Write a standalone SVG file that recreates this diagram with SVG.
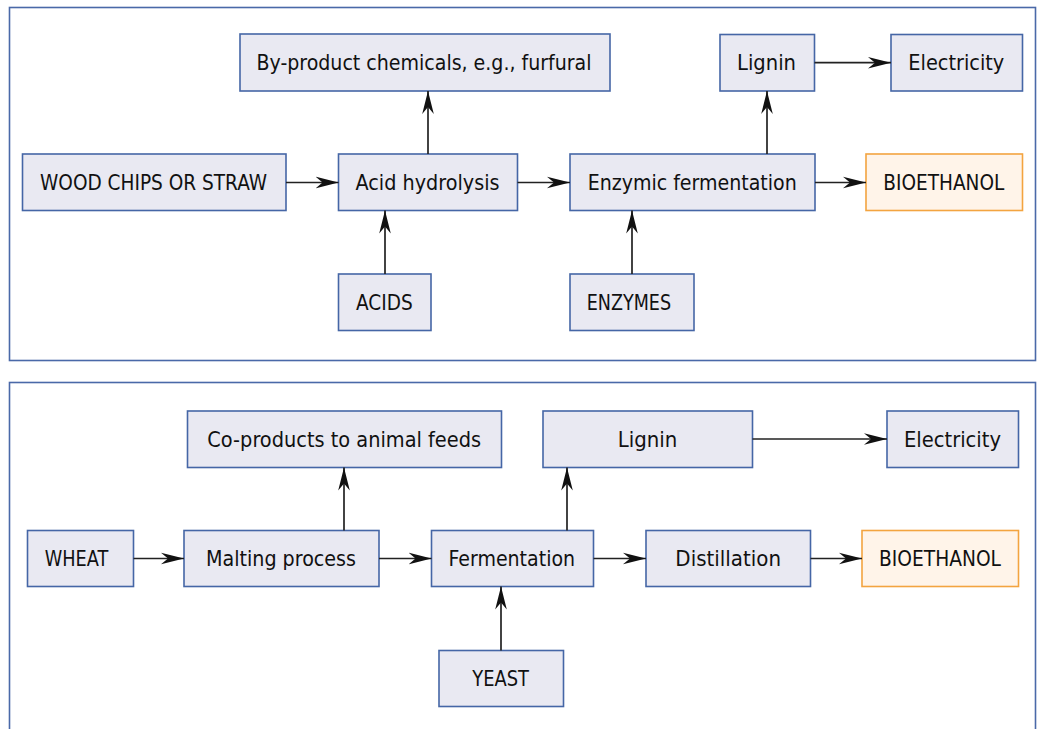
<svg xmlns="http://www.w3.org/2000/svg" width="1039" height="729" viewBox="0 0 1039 729">
<defs>
<marker id="ah" markerUnits="userSpaceOnUse" markerWidth="24" markerHeight="14" viewBox="-23 -7 24 14" refX="0" refY="0" orient="auto">
<path d="M0,0 L-23,-5.8 L-16,0 L-23,5.8 Z" fill="#111"/>
</marker>
<style>
.panel{fill:#ffffff;stroke:#4a69a8;stroke-width:1.6}
.box rect{fill:#e9e9f2;stroke:#4566a6;stroke-width:1.6}
.out rect{fill:#fff4e9;stroke:#f3a440;stroke-width:1.6}
text{font-family:"DejaVu Sans Condensed","DejaVu Sans",sans-serif;font-stretch:condensed;font-size:22px;fill:#111;text-anchor:middle}
#connectors line{stroke:#222;stroke-width:1.7;marker-end:url(#ah)}
</style>
</defs>
<rect width="1039" height="729" fill="#ffffff"/>
<rect class="panel" x="9.5" y="7.5" width="1026" height="353"/>
<rect class="panel" x="9.5" y="382.5" width="1026" height="370"/>

<g id="byprod" class="box"><rect x="240" y="34" width="370" height="57"/><text x="424" y="69.5" textLength="335" lengthAdjust="spacingAndGlyphs">By-product chemicals, e.g., furfural</text></g>
<g id="lignin1" class="box"><rect x="720" y="34.5" width="94.5" height="56.5"/><text x="766.5" y="69.5" textLength="59" lengthAdjust="spacingAndGlyphs">Lignin</text></g>
<g id="elec1" class="box"><rect x="891" y="34.5" width="131.5" height="56.5"/><text x="956.3" y="69.5" textLength="96" lengthAdjust="spacingAndGlyphs">Electricity</text></g>
<g id="wood" class="box"><rect x="22.5" y="154" width="263.5" height="56.5"/><text x="153.5" y="190" textLength="227" lengthAdjust="spacingAndGlyphs">WOOD CHIPS OR STRAW</text></g>
<g id="acid" class="box"><rect x="338.5" y="154" width="179" height="56.5"/><text x="427.5" y="190" textLength="144" lengthAdjust="spacingAndGlyphs">Acid hydrolysis</text></g>
<g id="enzferm" class="box"><rect x="570" y="154" width="245" height="56.5"/><text x="692.2" y="190" textLength="209" lengthAdjust="spacingAndGlyphs">Enzymic fermentation</text></g>
<g id="bio1" class="out"><rect x="866" y="154" width="156.5" height="56.5"/><text x="943.8" y="190" textLength="121" lengthAdjust="spacingAndGlyphs">BIOETHANOL</text></g>
<g id="acids" class="box"><rect x="338.5" y="274" width="92.5" height="56.5"/><text x="384.4" y="310" textLength="56.7" lengthAdjust="spacingAndGlyphs">ACIDS</text></g>
<g id="enzymes" class="box"><rect x="570" y="274" width="124" height="56.5"/><text x="628.9" y="310" textLength="84.3" lengthAdjust="spacingAndGlyphs">ENZYMES</text></g>

<g id="coprod" class="box"><rect x="187.5" y="411" width="314" height="56.5"/><text x="344.2" y="446.5" textLength="273.7" lengthAdjust="spacingAndGlyphs">Co-products to animal feeds</text></g>
<g id="lignin2" class="box"><rect x="543" y="411" width="209.5" height="56.5"/><text x="647.5" y="446.5" textLength="59.6" lengthAdjust="spacingAndGlyphs">Lignin</text></g>
<g id="elec2" class="box"><rect x="887" y="411" width="131.5" height="56.5"/><text x="952.5" y="446.5" textLength="97" lengthAdjust="spacingAndGlyphs">Electricity</text></g>
<g id="wheat" class="box"><rect x="27.5" y="530.5" width="106" height="56"/><text x="76.5" y="566" textLength="63.5" lengthAdjust="spacingAndGlyphs">WHEAT</text></g>
<g id="malting" class="box"><rect x="184" y="530.5" width="195" height="56"/><text x="281" y="566" textLength="150" lengthAdjust="spacingAndGlyphs">Malting process</text></g>
<g id="ferm" class="box"><rect x="431.5" y="530.5" width="162" height="56"/><text x="511.8" y="566" textLength="126.5" lengthAdjust="spacingAndGlyphs">Fermentation</text></g>
<g id="dist" class="box"><rect x="646" y="530.5" width="164.5" height="56"/><text x="728.2" y="566" textLength="105.7" lengthAdjust="spacingAndGlyphs">Distillation</text></g>
<g id="bio2" class="out"><rect x="862" y="530.5" width="156.5" height="56"/><text x="940" y="566" textLength="122" lengthAdjust="spacingAndGlyphs">BIOETHANOL</text></g>
<g id="yeast" class="box"><rect x="439" y="650.5" width="124.5" height="56"/><text x="500.6" y="686" textLength="56.6" lengthAdjust="spacingAndGlyphs">YEAST</text></g>

<g id="connectors">
<line x1="286" y1="182.5" x2="338.5" y2="182.5"/>
<line x1="517.5" y1="182.5" x2="570" y2="182.5"/>
<line x1="815" y1="182.5" x2="866" y2="182.5"/>
<line x1="428" y1="154" x2="428" y2="91"/>
<line x1="767" y1="154" x2="767" y2="91"/>
<line x1="814.5" y1="62.7" x2="891" y2="62.7"/>
<line x1="385" y1="274" x2="385" y2="210.5"/>
<line x1="632" y1="274" x2="632" y2="210.5"/>
<line x1="133.5" y1="558.5" x2="184" y2="558.5"/>
<line x1="379" y1="558.5" x2="431.5" y2="558.5"/>
<line x1="593.5" y1="558.5" x2="646" y2="558.5"/>
<line x1="810.5" y1="558.5" x2="862" y2="558.5"/>
<line x1="344" y1="530.5" x2="344" y2="467.5"/>
<line x1="567" y1="530.5" x2="567" y2="467.5"/>
<line x1="752.5" y1="439" x2="887" y2="439"/>
<line x1="501" y1="650.5" x2="501" y2="586.5"/>
</g>
</svg>
